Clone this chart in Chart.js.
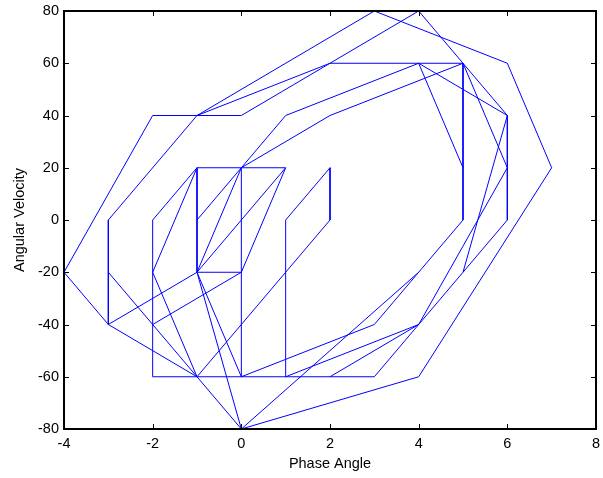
<!DOCTYPE html>
<html>
<head>
<meta charset="utf-8">
<script src="https://cdn.jsdelivr.net/npm/chart.js@4.4.0/dist/chart.umd.min.js"></script>
<style>
  html, body { margin: 0; padding: 0; background: #fff; }
  #wrap { width: 603px; height: 478px; }
</style>
</head>
<body>
<div id="wrap"><canvas id="myChart"></canvas></div>
<script>
// trajectory pieces, null = pen up
const phaseAngle = [
  -3, -4, -2, -1, 0, 2, 4, 5, 6, 5, 4, 3, -2, -2, -1, -2, -1, 0, 4, 7, 6, 3, -1, 2, 5, 5, 4, 3, 0, 0, -1, -1, 0, 4, null,
  -1, -3, -3, -1, 0, 1, 4, 6, 6, 5, null,
  -3, -1, -3, null,
  -1, 1, 0, 2, 5, 6, 4, 1, 1, 2, 2, -1, null,
  4, 5, null,
  -1, 0, null,
  0, -1, 0, 1, null,
  -2, 0, null,
  2, 4
];
const angularVelocity = [
  -40, -20, 40, 40, 40, 60, 80, 60, 40, -20, -40, -60, -60, 0, 20, -20, -60, -80, -60, 20, 60, 80, 40, 60, 60, 0, -20, -40, -60, 20, 20, -20, -80, -20, null,
  40, 0, -40, -20, 20, 40, 60, 40, 0, -20, null,
  -20, -60, -40, null,
  -20, 20, 20, 40, 60, 20, -40, -60, 0, 20, 0, -60, null,
  60, 20, null,
  0, 20, null,
  -60, -20, -20, 20, null,
  -40, -20, null,
  -60, -40
];
const xTicks = [-4, -2, 0, 2, 4, 6, 8];
const yTicks = [-80, -60, -40, -20, 0, 20, 40, 60, 80];

const fontFamily = "'Liberation Sans', Arial, Helvetica, sans-serif";

// MATLAB style box with inward ticks
const frameTicks = {
  id: "frameTicks",
  afterDatasetsDraw(chart) {
    const { ctx, chartArea: a, scales } = chart;
    ctx.save();
    ctx.strokeStyle = "#000";
    ctx.lineWidth = 1;
    ctx.beginPath();
    xTicks.forEach((v) => {
      const px = Math.round(scales.x.getPixelForValue(v)) + 0.5;
      ctx.moveTo(px, a.bottom);
      ctx.lineTo(px, a.bottom - 5);
      ctx.moveTo(px, a.top);
      ctx.lineTo(px, a.top + 5);
    });
    yTicks.forEach((v) => {
      const py = Math.round(scales.y.getPixelForValue(v)) + 0.5;
      ctx.moveTo(a.left, py);
      ctx.lineTo(a.left + 5, py);
      ctx.moveTo(a.right, py);
      ctx.lineTo(a.right - 5, py);
    });
    ctx.stroke();
    ctx.lineWidth = 2;
    ctx.strokeRect(a.left, a.top, a.right - a.left, a.bottom - a.top);
    ctx.restore();
  },
};

function buildPoints() {
  return phaseAngle.map((x, i) => ({ x: x, y: angularVelocity[i] }));
}

function createChart() {
  const data = {
    datasets: [
      {
        label: "trajectory",
        data: buildPoints(),
        borderColor: "#0000ff",
        borderWidth: 1,
        pointRadius: 0,
        fill: false,
        tension: 0,
        spanGaps: false,
      },
    ],
  };

  const config = {
    type: "line",
    data,
    options: {
      responsive: true,
      maintainAspectRatio: false,
      animation: false,
      layout: { padding: { top: 11, right: 7, left: 0, bottom: 0 } },
      plugins: {
        legend: { display: false },
        tooltip: { enabled: false },
      },
      scales: {
        x: {
          type: "linear",
          min: -4,
          max: 8,
          afterBuildTicks: (s) => { s.ticks = xTicks.map((v) => ({ value: v })); },
          afterFit: (s) => {
            s.height = 49;
            s.paddingLeft = 0;
            s.paddingRight = 0;
          },
          grid: { display: false, drawTicks: false },
          border: { display: false },
          ticks: { color: "#000", padding: 6, font: { family: fontFamily, size: 14.5 } },
          title: {
            display: true,
            text: "Phase Angle",
            color: "#000",
            padding: { top: 0, bottom: 5 },
            font: { family: fontFamily, size: 14.5 },
          },
        },
        y: {
          type: "linear",
          min: -80,
          max: 80,
          afterBuildTicks: (s) => { s.ticks = yTicks.map((v) => ({ value: v })); },
          afterFit: (s) => {
            s.width = 64;
            s.paddingTop = 0;
            s.paddingBottom = 0;
          },
          grid: { display: false, drawTicks: false },
          border: { display: false },
          ticks: { color: "#000", padding: 5, font: { family: fontFamily, size: 14.5 } },
          title: {
            display: true,
            text: "Angular Velocity",
            color: "#000",
            padding: { top: 11, bottom: 0 },
            font: { family: fontFamily, size: 14.5 },
          },
        },
      },
    },
    plugins: [frameTicks],
  };

  new Chart(document.getElementById("myChart"), config);
}

createChart();
</script>
</body>
</html>
